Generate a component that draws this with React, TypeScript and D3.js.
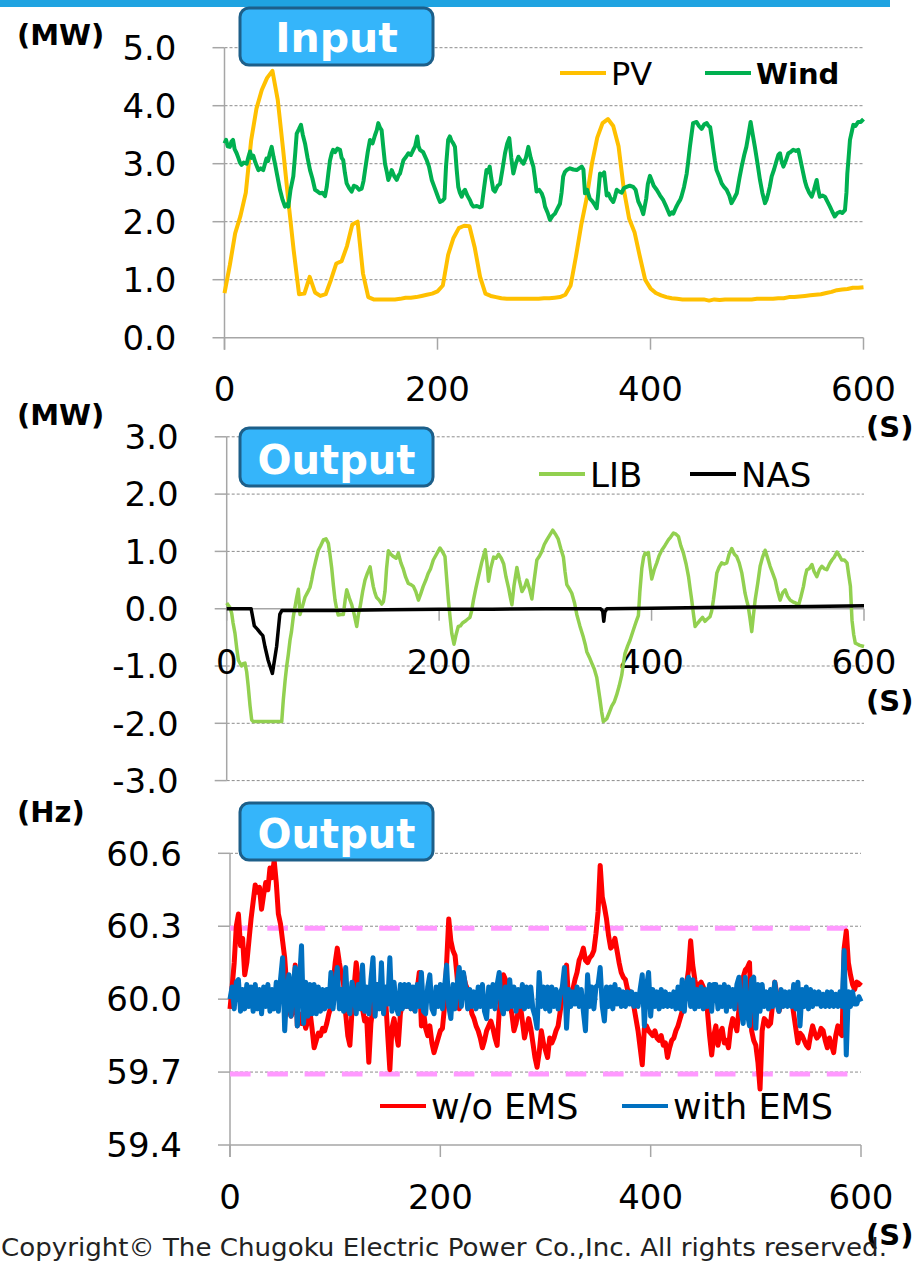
import React from "react";
import * as d3 from "d3";

// ---------- shared axis data ----------
const timeStep5 = d3.range(0, 601, 5);
const timeStep2 = d3.range(0, 601, 2);
const xTickValues = [0, 200, 400, 600];

// ---------- Input panel (MW) ----------
const inputTicks = [0, 1, 2, 3, 4, 5];
const pvMW = [
  0.77, 1.25, 1.80, 2.10, 2.50, 3.40, 3.95, 4.27, 4.48, 4.60,
  4.10, 3.25, 2.35, 1.50, 0.75, 0.76, 1.05, 0.78, 0.72, 0.75,
  1.00, 1.28, 1.32, 1.58, 1.95, 2.00, 1.11, 0.70, 0.66, 0.66,
  0.66, 0.66, 0.66, 0.67, 0.69, 0.69, 0.70, 0.72, 0.74, 0.76,
  0.80, 0.90, 1.43, 1.72, 1.89, 1.93, 1.92, 1.55, 1.05, 0.76,
  0.72, 0.70, 0.68, 0.67, 0.67, 0.67, 0.67, 0.67, 0.67, 0.67,
  0.68, 0.68, 0.69, 0.70, 0.74, 0.90, 1.40, 1.95, 2.40, 3.00,
  3.45, 3.70, 3.77, 3.65, 3.30, 2.55, 2.05, 1.82, 1.40, 1.00,
  0.85, 0.77, 0.73, 0.70, 0.68, 0.67, 0.66, 0.66, 0.66, 0.66,
  0.66, 0.64, 0.66, 0.65, 0.66, 0.66, 0.66, 0.66, 0.66, 0.66,
  0.67, 0.67, 0.67, 0.67, 0.68, 0.68, 0.70, 0.70, 0.71, 0.72,
  0.73, 0.74, 0.75, 0.77, 0.79, 0.82, 0.83, 0.84, 0.86, 0.86,
  0.87,
];
const windTimeSec = [
  0, 1.5, 3, 5, 6.5, 8, 9.5, 11.4, 13, 14.5, 16, 18, 20.8, 22.5, 24, 25.5, 27, 29, 31.8, 34,
  36.4, 38, 39.4, 41, 42.5, 44.3, 46, 47.4, 49.5, 52.1, 54.5, 56.8, 58.5, 59.9, 62, 64.6, 66.5, 67.8, 70, 71.8,
  73.5, 75.6, 78, 80.3, 82.5, 85, 87.5, 89.7, 92, 94.4, 96, 97.5, 99, 100.7, 102, 103.8, 106, 108.5, 110, 111.5,
  113, 114.7, 117, 119.4, 121.5, 124, 126.5, 128.8, 130.5, 132, 134.5, 136.6, 139, 141.3, 143, 144.4, 146, 147.5, 149, 150.7,
  152.5, 153.8, 155.5, 157, 159.5, 161.7, 163.5, 164.8, 166.5, 168, 170.5, 172.6, 175, 177.3, 179, 181, 182.2, 183.5, 186.5, 189.9,
  192, 194.6, 197, 199.2, 201, 202.4, 204.5, 206.5, 208, 210, 211.6, 213, 214.8, 216.4, 218, 219.5, 221, 222.7, 224.5, 225.8,
  228, 230.5, 232, 233.6, 237, 239.5, 241.5, 243.5, 246, 247.5, 249, 250.5, 252.4, 254, 256.5, 258.7, 261, 263.4, 265.5, 267.4,
  269.3, 271.2, 273.5, 276, 278.5, 280.7, 283, 285.3, 287.5, 290, 291.5, 293, 295.5, 297.8, 299.5, 301, 303.5, 305.6, 308, 310.3,
  312.5, 315, 316.5, 318, 319.7, 321.3, 324.4, 327.5, 330.7, 333, 335.4, 337, 338.5, 340.5, 343, 345.5, 348, 349.5, 351, 352.6,
  354.5, 356.5, 358.9, 360.4, 362.5, 365, 366.5, 368.3, 370.5, 373, 375, 377.6, 380.5, 383.8, 386, 388.5, 391, 393.2, 396, 397.5,
  399.5, 401, 403, 405.8, 409, 412, 415, 418, 420, 421.4, 424, 426, 428, 429, 431.5, 434, 435.5, 437, 438.5, 440,
  443.3, 445.5, 448, 450.5, 452.8, 454.5, 456, 457.5, 459, 460.5, 462, 464.5, 466.8, 469, 471.5, 474, 476, 478.5, 481, 483.5,
  485.6, 488, 490, 492, 494, 496, 498, 500.5, 502.8, 505, 507.5, 509, 510.6, 512, 513.8, 516, 518.5, 520, 521.6, 523,
  524.8, 527, 529.4, 531.5, 534, 536.5, 538.8, 541, 543.5, 545, 546.6, 549, 551.4, 553.5, 556, 557.5, 559, 561.5, 563.8, 566,
  568.5, 570.5, 573, 575.5, 578, 580, 582.6, 584, 584.8, 586, 587.3, 589, 590.4, 592.5, 595, 597.5, 600,
];
const windMW = [
  3.35, 3.41, 3.30, 3.29, 3.38, 3.41, 3.25, 3.18, 3.10, 3.02, 2.98, 3.02, 3.00, 3.12, 3.21, 3.10, 3.14, 3.02, 2.89, 2.92,
  2.89, 3.00, 3.09, 3.05, 3.18, 3.29, 3.12, 3.00, 2.80, 2.55, 2.38, 2.26, 2.30, 2.26, 2.55, 2.78, 3.20, 3.52, 3.60, 3.67,
  3.50, 3.35, 3.10, 2.89, 2.75, 2.55, 2.52, 2.49, 2.50, 2.44, 2.60, 2.83, 3.05, 3.18, 3.24, 3.20, 3.26, 3.24, 3.10, 3.06,
  2.85, 2.66, 2.58, 2.52, 2.62, 2.60, 2.55, 2.57, 2.70, 2.89, 3.20, 3.41, 3.35, 3.49, 3.58, 3.70, 3.62, 3.58, 3.30, 3.00,
  2.85, 2.72, 2.80, 2.89, 2.78, 2.72, 2.80, 2.83, 2.95, 3.06, 3.12, 3.18, 3.15, 3.24, 3.30, 3.47, 3.30, 3.24, 3.20, 3.06,
  2.95, 2.72, 2.60, 2.49, 2.40, 2.34, 2.36, 2.40, 2.95, 3.41, 3.47, 3.40, 3.35, 3.29, 2.90, 2.60, 2.50, 2.43, 2.52, 2.55,
  2.45, 2.37, 2.30, 2.26, 2.27, 2.25, 2.26, 2.55, 2.89, 2.85, 2.95, 2.75, 2.55, 2.52, 2.62, 2.65, 2.90, 3.18, 3.35, 3.44,
  3.10, 2.83, 3.00, 3.12, 3.05, 3.00, 3.10, 3.29, 3.10, 2.95, 2.75, 2.52, 2.55, 2.49, 2.40, 2.26, 2.15, 2.03, 2.10, 2.14,
  2.22, 2.31, 2.50, 2.78, 2.86, 2.89, 2.92, 2.90, 2.89, 2.92, 2.95, 2.90, 2.49, 2.55, 2.40, 2.35, 2.28, 2.23, 2.50, 2.83,
  2.80, 2.85, 2.45, 2.49, 2.40, 2.34, 2.42, 2.55, 2.52, 2.50, 2.58, 2.60, 2.62, 2.60, 2.55, 2.35, 2.25, 2.13, 2.40, 2.65,
  2.79, 2.72, 2.62, 2.55, 2.45, 2.37, 2.25, 2.12, 2.16, 2.14, 2.25, 2.32, 2.38, 2.43, 2.60, 2.83, 3.05, 3.29, 3.50, 3.70,
  3.72, 3.65, 3.60, 3.68, 3.70, 3.65, 3.63, 3.45, 3.24, 3.05, 2.89, 2.78, 2.66, 2.60, 2.55, 2.45, 2.32, 2.40, 2.49, 2.75,
  2.95, 3.15, 3.29, 3.50, 3.72, 3.50, 3.29, 3.00, 2.72, 2.50, 2.32, 2.38, 2.49, 2.60, 2.78, 2.90, 3.06, 3.15, 3.18, 3.05,
  2.95, 3.05, 3.18, 3.20, 3.24, 3.22, 3.24, 3.05, 2.83, 2.70, 2.60, 2.50, 2.43, 2.55, 2.72, 2.55, 2.43, 2.45, 2.43, 2.35,
  2.26, 2.18, 2.09, 2.15, 2.17, 2.15, 2.20, 2.50, 2.83, 3.10, 3.41, 3.55, 3.67, 3.65, 3.72, 3.72, 3.77,
];

// ---------- Output panel (MW) ----------
const outputTicks = [-3, -2, -1, 0, 1, 2, 3];
const libTimeSec = [
  0, 1.5, 3, 4.7, 6, 7.8, 9.5, 11, 12.5, 14, 15.5, 17.2, 18.8, 20.3, 22, 23.5, 25, 51.8, 53.3, 55,
  56.5, 58, 59.6, 61, 62.7, 64.5, 65.9, 67.4, 69, 71.5, 73.7, 76, 78.4, 80, 81.6, 84, 86.3, 88.5, 91, 93.5,
  95.7, 97.2, 98.8, 100.5, 102, 103.5, 105, 107.5, 109.8, 111.5, 113, 115.5, 117.7, 120, 122.4, 124, 125.6, 128, 130.2, 132.5,
  135, 136.5, 138, 139.5, 141, 143.5, 146, 147.5, 149, 150.5, 152.2, 154.5, 157, 159.5, 161.6, 164, 166.3, 168.5, 171, 173.5,
  175.8, 178, 180.5, 182.5, 185, 187.5, 189.8, 192, 194.5, 197.5, 200.8, 203, 205.5, 207, 208.7, 210.3, 211.9, 214, 216, 218,
  220, 222, 224.4, 227, 229, 230.5, 232.3, 234.5, 237, 240, 243.4, 245, 246.5, 248.5, 251.3, 253.5, 256, 258.5, 260.8, 263,
  265.5, 267, 268.5, 270.5, 273.2, 275.5, 278, 280.5, 282.6, 285, 287.3, 289.5, 292, 294.5, 296.7, 299, 301.4, 304, 307, 309.5,
  312, 314.5, 317, 318.5, 320.2, 322.5, 324.9, 327.5, 329.6, 332.5, 335.8, 337.5, 339, 341.5, 343.7, 346, 348.4, 350, 351.5, 353,
  354.6, 356, 357.8, 360, 362.5, 365, 367.2, 369.5, 371.9, 373.5, 375, 377.5, 379.7, 382, 384.5, 386, 387.6, 389, 390.8, 392.5,
  393.9, 395.5, 397, 398.5, 400.2, 402.5, 404.9, 407, 409.6, 412.5, 415.8, 418, 420.6, 423, 425.3, 427.5, 430, 432.5, 434.8, 436.3,
  437.8, 439.5, 441, 443.5, 445.7, 448, 450.3, 452.5, 455, 456.5, 458.2, 460, 461.4, 463.5, 466, 468.5, 470.8, 473, 475.5, 478,
  480.2, 482.5, 485, 486.5, 488, 489.5, 491, 492.5, 494.3, 496, 497.5, 500, 502.2, 504.5, 506.9, 509, 511.6, 514, 516.4, 518.5,
  521, 523.5, 525.8, 528, 530.5, 533, 535.5, 538.4, 540.5, 543, 544.5, 546.2, 548.5, 551, 553, 555.6, 558, 560.3, 562.5, 565,
  567.5, 569.8, 572, 574.5, 577, 579, 581.5, 584, 585.5, 587.2, 588.7, 590.3, 591.8, 594, 596, 598, 600,
];
const libMW = [
  0.10, 0.06, 0.02, -0.08, -0.25, -0.43, -0.70, -0.90, -0.95, -1.00, -0.96, -0.95, -1.10, -1.36, -1.70, -1.94, -1.97, -1.97, -1.59, -1.25,
  -1.00, -0.80, -0.55, -0.40, -0.14, 0.05, 0.20, 0.34, -0.10, 0.05, 0.20, 0.28, 0.37, 0.50, 0.66, 0.85, 1.02, 1.10, 1.20, 1.22,
  1.14, 0.95, 0.72, 0.40, 0.15, 0.00, -0.11, -0.10, -0.10, 0.15, 0.33, 0.18, 0.07, -0.10, -0.31, -0.10, 0.03, 0.30, 0.50, 0.62,
  0.73, 0.55, 0.39, 0.28, 0.20, 0.15, 0.08, 0.12, 0.30, 0.70, 1.01, 0.95, 0.91, 0.88, 0.97, 0.80, 0.69, 0.55, 0.44, 0.42,
  0.39, 0.30, 0.15, 0.25, 0.39, 0.50, 0.62, 0.70, 0.85, 0.95, 1.06, 1.00, 0.91, 0.55, 0.15, -0.15, -0.43, -0.62, -0.45, -0.31,
  -0.30, -0.25, -0.22, -0.18, -0.15, -0.05, 0.15, 0.35, 0.56, 0.80, 1.03, 0.80, 0.48, 0.70, 0.90, 0.88, 0.95, 0.88, 0.78, 0.55,
  0.35, 0.20, 0.07, 0.40, 0.72, 0.50, 0.30, 0.38, 0.50, 0.35, 0.17, 0.50, 0.85, 0.92, 1.00, 1.12, 1.20, 1.28, 1.37, 1.30,
  1.22, 1.05, 0.90, 0.65, 0.42, 0.35, 0.27, 0.10, -0.10, -0.30, -0.50, -0.62, -0.75, -0.85, -0.95, -1.05, -1.20, -1.40, -1.59, -1.80,
  -1.97, -1.95, -1.92, -1.82, -1.70, -1.62, -1.50, -1.35, -1.16, -0.95, -0.78, -0.65, -0.55, -0.42, -0.28, -0.20, -0.12, 0.30, 0.70, 0.90,
  0.97, 0.95, 0.98, 0.75, 0.52, 0.68, 0.80, 0.92, 1.02, 1.10, 1.20, 1.25, 1.32, 1.30, 1.26, 1.10, 0.97, 0.78, 0.56, 0.35,
  0.15, -0.10, -0.31, -0.25, -0.20, -0.15, -0.22, -0.18, -0.14, -0.05, 0.15, 0.40, 0.62, 0.72, 0.80, 0.78, 0.80, 0.95, 1.05, 0.95,
  0.91, 0.80, 0.62, 0.45, 0.27, 0.15, 0.04, -0.15, -0.40, -0.10, 0.15, 0.45, 0.74, 0.90, 1.02, 0.90, 0.74, 0.62, 0.50, 0.32,
  0.15, 0.28, 0.33, 0.22, 0.15, 0.12, 0.10, 0.06, 0.20, 0.39, 0.55, 0.68, 0.70, 0.77, 0.65, 0.56, 0.68, 0.74, 0.70, 0.68,
  0.78, 0.85, 0.90, 0.99, 0.92, 0.85, 0.85, 0.80, 0.60, 0.39, -0.20, -0.45, -0.60, -0.62, -0.64, -0.65, -0.66,
];
const nasTimeSec = [0, 23, 26, 29, 32, 34, 36, 39, 43, 47, 50, 52, 100, 150, 200, 250, 300, 352, 354, 355, 356, 358, 400, 450, 500, 550, 600];
const nasMW = [0, 0, -0.3, -0.36, -0.43, -0.47, -0.66, -0.9, -1.13, -0.66, -0.1, -0.03, -0.03, -0.02, -0.01, -0.01, 0, 0, -0.04, -0.22, -0.06, 0, 0.01, 0.02, 0.03, 0.04, 0.05];

// ---------- Frequency panel (Hz) ----------
const freqTicks = [59.4, 59.7, 60.0, 60.3, 60.6];
const freqLimits = [60.3, 59.7];
const freqWithoutEMS = [
  59.96, 60.05, 60.15, 60.30, 60.35, 60.22, 60.25, 60.10, 60.15, 60.24,
  60.33, 60.40, 60.47, 60.44, 60.46, 60.37, 60.43, 60.48, 60.45, 60.54,
  60.50, 60.57, 60.48, 60.35, 60.31, 60.24, 60.17, 60.05, 59.96, 59.93,
  59.95, 60.14, 59.89, 59.94, 59.90, 59.92, 59.88, 59.91, 59.95, 59.88,
  59.80, 59.83, 59.86, 59.85, 59.88, 59.87, 59.90, 59.94, 59.97, 60.06,
  60.15, 60.21, 60.15, 60.10, 60.06, 59.94, 59.85, 59.81, 59.95, 60.05,
  60.15, 60.08, 60.06, 59.96, 59.91, 59.92, 59.74, 59.90, 59.97, 60.02,
  60.06, 60.03, 59.98, 60.01, 60.00, 59.85, 59.71, 59.88, 59.92, 59.86,
  59.81, 59.94, 59.98, 59.97, 59.99, 59.97, 59.98, 59.96, 59.99, 60.04,
  60.11, 59.89, 59.95, 59.88, 59.85, 59.89, 59.82, 59.78, 59.81, 59.84,
  59.87, 59.88, 59.97, 60.15, 60.33, 60.24, 60.20, 60.18, 60.09, 59.96,
  60.03, 60.10, 60.06, 60.04, 59.99, 59.94, 59.92, 59.89, 59.87, 59.84,
  59.80, 59.83, 59.87, 59.89, 59.91, 59.88, 59.84, 59.81, 59.95, 60.02,
  60.10, 60.08, 60.01, 59.98, 59.94, 59.87, 59.90, 59.95, 59.98, 59.91,
  59.84, 59.88, 59.92, 59.88, 59.82, 59.76, 59.72, 59.78, 59.87, 59.82,
  59.79, 59.76, 59.84, 59.82, 59.84, 59.87, 59.89, 59.95, 60.01, 60.08,
  60.14, 59.99, 60.02, 60.04, 60.08, 60.11, 60.16, 60.18, 60.21, 60.16,
  60.15, 60.17, 60.18, 60.20, 60.27, 60.36, 60.55, 60.42, 60.38, 60.33,
  60.26, 60.21, 60.22, 60.25, 60.20, 60.15, 60.11, 60.09, 60.08, 60.04,
  60.03, 60.02, 59.97, 59.92, 59.87, 59.80, 59.73, 59.88, 59.89, 59.87,
  59.86, 59.85, 59.87, 59.84, 59.83, 59.85, 59.81, 59.82, 59.76, 59.80,
  59.83, 59.84, 59.87, 59.89, 59.92, 59.95, 60.00, 60.06, 60.12, 60.24,
  60.14, 60.08, 60.04, 60.06, 60.07, 60.05, 60.03, 59.95, 59.85, 59.77,
  59.85, 59.89, 59.81, 59.86, 59.88, 59.82, 59.83, 59.80, 59.88, 59.92,
  59.90, 59.87, 59.96, 60.07, 60.09, 60.12, 60.13, 60.15, 59.87, 59.83,
  59.81, 59.74, 59.63, 59.87, 59.92, 59.91, 59.89, 59.90, 59.98, 60.07,
  60.02, 59.95, 59.98, 60.00, 60.00, 59.99, 60.01, 60.00, 59.94, 59.88,
  59.82, 59.86, 59.85, 59.83, 59.81, 59.80, 59.85, 59.89, 59.86, 59.84,
  59.85, 59.88, 59.87, 59.83, 59.80, 59.84, 59.81, 59.78, 59.85, 59.89,
  59.86, 59.85, 60.21, 60.28, 60.15, 60.10, 60.06, 60.04, 60.07, 60.06,
  60.07,
];
const freqWithEMS = [
  60.00, 60.05, 59.96, 60.07, 60.08, 59.95, 60.04, 59.96, 60.06, 59.97,
  60.05, 59.95, 60.06, 59.96, 60.04, 59.94, 60.05, 59.97, 60.06, 59.95,
  60.04, 59.96, 60.07, 59.95, 60.08, 60.17, 59.87, 60.03, 60.10, 59.93,
  60.06, 60.13, 59.89, 60.07, 60.22, 59.90, 60.07, 59.93, 60.06, 59.94,
  60.06, 59.94, 60.05, 59.95, 60.04, 59.96, 60.04, 59.97, 60.11, 59.96,
  60.05, 60.13, 59.96, 60.04, 59.95, 60.13, 59.96, 59.94, 60.07, 60.02,
  59.94, 60.06, 59.96, 60.14, 59.95, 60.05, 59.94, 60.08, 60.17, 59.93,
  60.06, 59.96, 60.15, 59.94, 60.05, 59.98, 60.17, 59.95, 60.07, 59.97,
  59.94, 60.06, 59.96, 60.06, 59.97, 60.06, 59.96, 60.05, 59.95, 60.06,
  59.97, 60.11, 59.95, 59.94, 60.05, 60.10, 59.96, 59.94, 60.05, 59.97,
  60.06, 59.96, 60.05, 60.14, 59.97, 59.92, 60.06, 59.96, 60.06, 60.13,
  59.97, 60.11, 60.05, 59.96, 60.04, 59.97, 60.03, 59.96, 60.05, 59.97,
  60.06, 59.95, 59.92, 60.05, 59.97, 60.06, 59.96, 60.06, 60.11, 59.97,
  59.94, 60.05, 59.96, 60.08, 59.97, 60.05, 59.95, 60.04, 59.97, 60.06,
  59.96, 60.05, 59.97, 60.05, 59.96, 59.93, 59.88, 60.11, 59.97, 60.05,
  59.96, 60.05, 59.95, 60.05, 59.97, 60.04, 59.96, 60.02, 60.05, 60.13,
  59.88, 60.04, 59.97, 60.03, 59.98, 60.05, 59.97, 60.04, 59.95, 59.87,
  60.10, 59.97, 60.05, 59.96, 60.05, 60.06, 60.13, 59.97, 59.91, 60.05,
  59.97, 60.05, 59.96, 60.06, 59.98, 60.04, 59.97, 60.03, 59.97, 60.03,
  59.98, 60.03, 59.97, 60.02, 59.97, 60.04, 60.10, 59.89, 60.05, 60.11,
  59.93, 60.04, 59.97, 60.03, 59.96, 60.04, 59.97, 60.03, 59.97, 60.02,
  59.97, 60.03, 59.96, 60.05, 59.96, 60.08, 59.95, 60.06, 60.09, 59.97,
  60.08, 59.96, 60.04, 59.97, 60.05, 59.96, 60.04, 59.97, 60.06, 59.95,
  60.06, 60.06, 59.96, 60.05, 59.97, 60.06, 59.95, 60.05, 59.97, 60.04,
  59.96, 60.06, 60.09, 59.95, 59.90, 60.09, 59.94, 59.89, 60.08, 60.09,
  59.88, 60.06, 59.95, 60.06, 59.97, 60.03, 59.96, 60.04, 59.97, 60.07,
  59.98, 59.95, 60.04, 59.97, 60.03, 59.97, 60.03, 59.97, 60.06, 59.96,
  60.07, 59.89, 60.04, 59.97, 60.05, 59.96, 60.04, 59.97, 60.03, 59.98,
  60.03, 59.97, 60.02, 59.97, 60.03, 59.97, 60.03, 59.97, 60.02, 59.97,
  60.03, 59.97, 60.20, 59.77, 60.03, 59.97, 60.03, 59.98, 59.98, 60.01,
  59.99,
];

// ---------- style ----------
const FONT = "'DejaVu Sans', Verdana, sans-serif";
const GRID = "#8c8c8c";
const AXIS = "#a6a6a6";
const TICK = 12;

type Scale = d3.ScaleLinear<number, number>;

function path(x: Scale, y: Scale, t: number[], v: number[]) {
  const gen = d3
    .line<number>()
    .x((_, i) => x(t[i]))
    .y((d) => y(d));
  return gen(v) ?? "";
}

function Frame(props: {
  x: Scale;
  y: Scale;
  ticks: number[];
  axisValue: number;
  extendBelow: boolean;
  xLabelBaseline: number;
}) {
  const { x, y, ticks, axisValue, extendBelow, xLabelBaseline } = props;
  const x0 = x(0);
  const x1 = x(600);
  const yTop = y(d3.max(ticks)!);
  const yBot = y(d3.min(ticks)!);
  const yAxis = y(axisValue);
  return (
    <g>
      {ticks
        .filter((t) => t !== axisValue)
        .map((t) => (
          <g key={"g" + t}>
            <line x1={x0} x2={x1} y1={y(t)} y2={y(t)} stroke={GRID} strokeWidth={1} strokeDasharray="3,2" />
            <line x1={x0 - TICK} x2={x0} y1={y(t)} y2={y(t)} stroke={AXIS} strokeWidth={1.5} />
          </g>
        ))}
      <line x1={x0 - TICK} x2={x1} y1={yAxis} y2={yAxis} stroke={AXIS} strokeWidth={1.5} />
      <line x1={x0} x2={x0} y1={yTop} y2={extendBelow ? yAxis + TICK : yBot} stroke={AXIS} strokeWidth={1.5} />
      {xTickValues.map((t) => (
        <line key={"xt" + t} x1={x(t)} x2={x(t)} y1={yAxis} y2={yAxis + TICK} stroke={AXIS} strokeWidth={1.5} />
      ))}
      {ticks.map((t) => (
        <text
          key={"yl" + t}
          x={x0 - 48}
          y={y(t)}
          dy="0.36em"
          textAnchor="end"
          fontFamily={FONT}
          fontSize={34}
          fill="#000"
        >
          {t.toFixed(1)}
        </text>
      ))}
      {xTickValues.map((t) => (
        <text
          key={"xl" + t}
          x={x(t)}
          y={xLabelBaseline}
          textAnchor="middle"
          fontFamily={FONT}
          fontSize={34}
          fill="#000"
        >
          {t}
        </text>
      ))}
    </g>
  );
}

function Badge(props: { x: number; y: number; w: number; h: number; label: string; baseline: number; size: number }) {
  const { x, y, w, h, label, baseline, size } = props;
  return (
    <g>
      <rect x={x} y={y} width={w} height={h} rx={9} ry={9} fill="#35B5FA" stroke="#1D5F89" strokeWidth={3} />
      <text x={x + w / 2} y={baseline} textAnchor="middle" fill="#fff" fontWeight="bold" fontSize={size} fontFamily={FONT}>
        {label}
      </text>
    </g>
  );
}

function LegendItem(props: { x: number; y: number; color: string; label: string; size: number; bold?: boolean; width?: number }) {
  const { x, y, color, label, size, bold, width = 4 } = props;
  return (
    <g>
      <line x1={x} x2={x + 46} y1={y} y2={y} stroke={color} strokeWidth={width} />
      <text x={x + 51} y={y} dy="0.37em" fontFamily={FONT} fontSize={size} fontWeight={bold ? "bold" : "normal"} fill="#000">
        {label}
      </text>
    </g>
  );
}

function Unit(props: { x: number; y: number; label: string }) {
  return (
    <text x={props.x} y={props.y} fontFamily={FONT} fontWeight="bold" fontSize={29} fill="#000">
      {props.label}
    </text>
  );
}

export default function App() {
  // panel 1
  const x1 = d3.scaleLinear().domain([0, 600]).range([224.5, 863.5]);
  const y1 = d3.scaleLinear().domain([0, 5]).range([337.7, 47.7]);
  // panel 2
  const x2 = d3.scaleLinear().domain([0, 600]).range([226.7, 864]);
  const y2 = d3.scaleLinear().domain([-3, 3]).range([780.6, 436.8]);
  // panel 3
  const x3 = d3.scaleLinear().domain([0, 600]).range([230, 861]);
  const y3 = d3.scaleLinear().domain([59.4, 60.6]).range([1145, 853.3]);

  return (
    <svg
      width={923}
      height={1262}
      viewBox="0 0 923 1262"
      style={{ position: "absolute", left: 0, top: 0, background: "#fff" }}
    >
      <rect x={0} y={0} width={923} height={1262} fill="#fff" />
      <rect x={0} y={0} width={890} height={7} fill="#1FA3E1" />

      {/* ---------------- Panel 1: Input ---------------- */}
      <Frame x={x1} y={y1} ticks={inputTicks} axisValue={0} extendBelow={true} xLabelBaseline={401} />
      <path d={path(x1, y1, timeStep5, pvMW)} fill="none" stroke="#FFC000" strokeWidth={4} strokeLinejoin="round" />
      <path d={path(x1, y1, windTimeSec, windMW)} fill="none" stroke="#00B050" strokeWidth={4} strokeLinejoin="round" />
      <LegendItem x={560} y={73} color="#FFC000" label="PV" size={32} />
      <LegendItem x={705} y={73} color="#00B050" label="Wind" size={29} bold />
      <Badge x={240} y={8} w={193} h={57} label="Input" baseline={52} size={41} />
      <Unit x={17} y={45} label="(MW)" />
      <Unit x={866} y={437} label="(S)" />

      {/* ---------------- Panel 2: Output ---------------- */}
      <Frame x={x2} y={y2} ticks={outputTicks} axisValue={0} extendBelow={false} xLabelBaseline={674} />
      <path d={path(x2, y2, libTimeSec, libMW)} fill="none" stroke="#92D050" strokeWidth={3.5} strokeLinejoin="round" />
      <path d={path(x2, y2, nasTimeSec, nasMW)} fill="none" stroke="#000" strokeWidth={3.5} strokeLinejoin="round" />
      <LegendItem x={539} y={474} color="#92D050" label="LIB" size={34} />
      <LegendItem x={690} y={474} color="#000" label="NAS" size={34} />
      <Badge x={240} y={428} w={193} h={58} label="Output" baseline={474} size={40} />
      <Unit x={17} y={425} label="(MW)" />
      <Unit x={866} y={711} label="(S)" />

      {/* ---------------- Panel 3: Frequency ---------------- */}
      <Frame x={x3} y={y3} ticks={freqTicks} axisValue={59.4} extendBelow={true} xLabelBaseline={1209} />
      {freqLimits.map((v) => (
        <line
          key={"lim" + v}
          x1={x3(0)}
          x2={x3(600)}
          y1={y3(v) + 2}
          y2={y3(v) + 2}
          stroke="#FF99FF"
          strokeWidth={5}
          strokeDasharray="20.6,16.7"
        />
      ))}
      <path d={path(x3, y3, timeStep2, freqWithoutEMS)} fill="none" stroke="#FF0000" strokeWidth={5} strokeLinejoin="round" />
      <path d={path(x3, y3, timeStep2, freqWithEMS)} fill="none" stroke="#0070C0" strokeWidth={5} strokeLinejoin="round" />
      <LegendItem x={380} y={1106} color="#FF0000" label="w/o EMS" size={35} />
      <LegendItem x={622} y={1106} color="#0070C0" label="with EMS" size={35} />
      <Badge x={240} y={803} w={193} h={57} label="Output" baseline={848} size={40} />
      <Unit x={17} y={822} label="(Hz)" />
      <Unit x={866} y={1245} label="(S)" />

      <text
        x={1}
        y={1256}
        fontFamily="'Liberation Sans Narrow', 'DejaVu Sans Condensed', 'Liberation Sans', sans-serif"
        fontSize={25}
        fill="#222"
        textLength={886}
        lengthAdjust="spacingAndGlyphs"
      >
        Copyright©  The Chugoku Electric Power Co.,Inc. All rights reserved.
      </text>
    </svg>
  );
}
